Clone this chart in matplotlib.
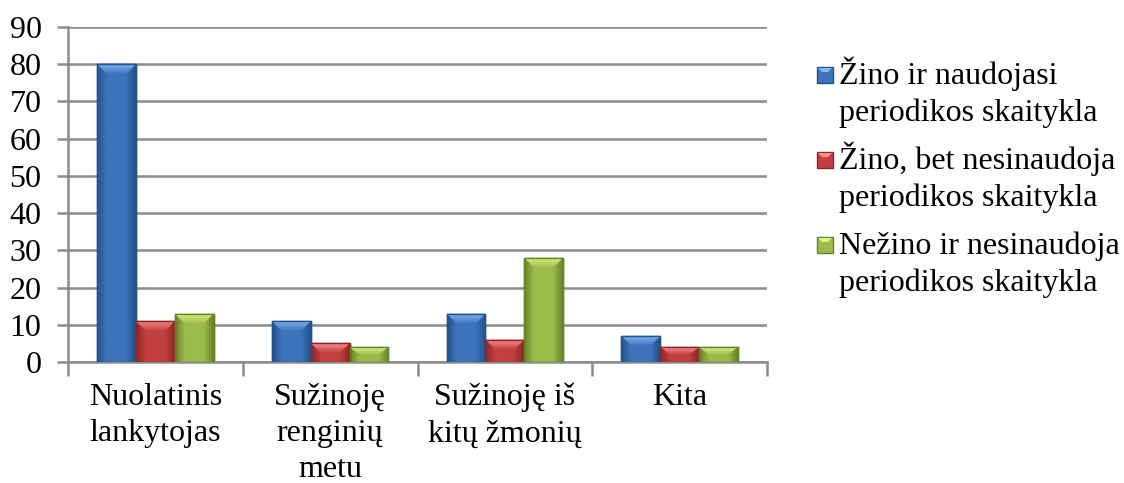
import numpy as np
import matplotlib
matplotlib.use("Agg")
import matplotlib.pyplot as plt
from matplotlib.patches import Polygon, Rectangle
from matplotlib.colors import LinearSegmentedColormap

plt.rcParams['font.family'] = ['Liberation Serif', 'DejaVu Serif']

categories = ['Nuolatinis\nlankytojas', 'Sužinoję\nrenginių\nmetu',
              'Sužinoję iš\nkitų žmonių', 'Kita']
series_labels = ['Žino ir naudojasi\nperiodikos skaitykla',
                 'Žino, bet nesinaudoja\nperiodikos skaitykla',
                 'Nežino ir nesinaudoja\nperiodikos skaitykla']
zino_naudojasi = [80, 11, 13, 7]
zino_nesinaudoja = [11, 5, 6, 4]
nezino_nesinaudoja = [13, 4, 28, 4]
series = [zino_naudojasi, zino_nesinaudoja, nezino_nesinaudoja]

# (dark edge, body, light top bevel)
palette = [('#23528c', '#3d74ba', '#84b8f5'),
           ('#8e2626', '#c13f3f', '#f59090'),
           ('#68822a', '#9bbb4a', '#def585')]

fig = plt.figure(figsize=(11.24, 4.83), dpi=100)
ax = fig.add_axes([0.0605, 0.2505, 0.6219, 0.6935])

x = np.arange(len(categories))
w = 0.222
bev_x = 0.057   # ~10px
bev_y = 2.7     # ~10px

for i, vals in enumerate(series):
    dark, body, light = palette[i]
    bars = ax.bar(x + (i - 1) * w, vals, w, color=body, edgecolor=dark,
                  linewidth=1.0, zorder=3)
    cmap = LinearSegmentedColormap.from_list('b%d' % i, [dark, body, body, body, dark])
    grad = np.linspace(0, 1, 64).reshape(1, -1)
    tcmap = LinearSegmentedColormap.from_list('t%d' % i, [body, light])
    for b in bars:
        bx, bw, bh = b.get_x(), b.get_width(), b.get_height()
        im = ax.imshow(grad, cmap=cmap, aspect='auto', zorder=3.5,
                       extent=(bx, bx + bw, 0, bh), interpolation='bilinear')
        im.set_clip_path(b)
        by = min(bev_y, bh * 0.5)
        top = Polygon([(bx, bh), (bx + bw, bh), (bx + bw - bev_x, bh - by),
                       (bx + bev_x, bh - by)], closed=True,
                      facecolor='none', edgecolor='none', zorder=4)
        ax.add_patch(top)
        vg = np.linspace(0, 1, 32).reshape(-1, 1)
        tim = ax.imshow(vg, cmap=tcmap, aspect='auto', zorder=4, origin='lower',
                        extent=(bx, bx + bw, bh - by, bh), interpolation='bilinear')
        tim.set_clip_path(top)
        ax.add_patch(Rectangle((bx, 0), bw, bh, facecolor='none',
                               edgecolor=dark, linewidth=1.0, zorder=4.5))

ax.set_xlim(-0.5, len(categories) - 0.5)
ax.set_ylim(0, 90)
ax.set_yticks(np.arange(0, 91, 10))
ax.yaxis.grid(True, color='#8c8c8c', linewidth=1.8, zorder=0)
ax.set_axisbelow(True)

ax.set_xticks(np.arange(-0.5, len(categories), 1))
ax.set_xticklabels([])
ax.set_xticks(x, minor=True)
ax.set_xticklabels(categories, minor=True, linespacing=1.33)
ax.tick_params(axis='x', which='major', length=10, width=1.8, color='#8c8c8c', direction='out')
ax.tick_params(axis='x', which='minor', length=0, pad=15, labelsize=23)
ax.tick_params(axis='y', length=8, width=1.8, color='#8c8c8c', labelsize=23, pad=11)

for s in ['top', 'right']:
    ax.spines[s].set_visible(False)
for s in ['left', 'bottom']:
    ax.spines[s].set_color('#8c8c8c')
    ax.spines[s].set_linewidth(1.8)

# legend drawn manually to match the original layout
W, H = 1124, 483
for i, lab in enumerate(series_labels):
    dark, body, light = palette[i]
    top_px = 67 + i * 85
    fig.add_artist(Rectangle((817 / W, 1 - (top_px + 16) / H), 16 / W, 16 / H,
                             transform=fig.transFigure, facecolor=body,
                             edgecolor=dark, linewidth=1.0))
    fig.add_artist(Polygon([(818 / W, 1 - (top_px + 1) / H), (832 / W, 1 - (top_px + 1) / H),
                            (828 / W, 1 - (top_px + 5) / H), (822 / W, 1 - (top_px + 5) / H)],
                           closed=True, transform=fig.transFigure, facecolor=light,
                           edgecolor='none'))
    # baseline alignment uses the last line of a multi-line text
    fig.text(839 / W, 1 - (top_px + 54) / H, lab, fontsize=23, va='baseline',
             ha='left', linespacing=1.35)

fig.savefig('out.png', dpi=100)
